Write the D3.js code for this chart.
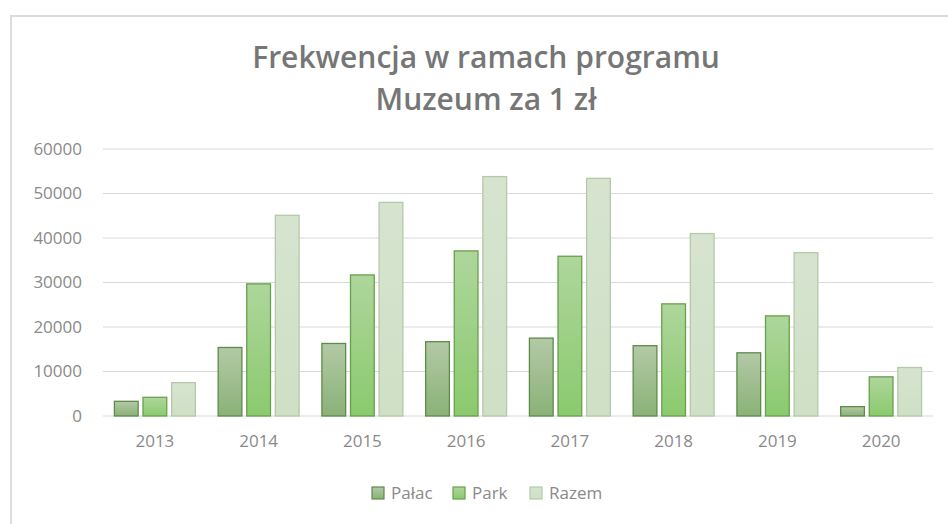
<!DOCTYPE html>
<html>
<head>
<meta charset="utf-8">
<script src="https://cdn.jsdelivr.net/npm/d3@7"></script>
<style>
  body { margin: 0; background: #fff; }
  #chart { width: 948px; height: 524px; }
  text { font-family: "Open Sans", sans-serif; }
</style>
</head>
<body>
<div id="chart"></div>
<script>
const years = ["2013", "2014", "2015", "2016", "2017", "2018", "2019", "2020"];
const seriesNames = ["Pałac", "Park", "Razem"];
const palac = [3300, 15400, 16300, 16700, 17500, 15800, 14200, 2100];
const park = [4200, 29700, 31700, 37100, 35900, 25200, 22500, 8800];
const razem = [7500, 45100, 48000, 53800, 53400, 41000, 36700, 10900];
const yTicks = [0, 10000, 20000, 30000, 40000, 50000, 60000];

const width = 948, height = 524;
const plot = { left: 103, right: 933, top: 149, bottom: 416 };

const svg = d3.select("#chart")
    .append("svg")
    .attr("width", width)
    .attr("height", height);

// gradients for the bars
const defs = svg.append("defs");
const fills = [
    { id: "g0", top: "#b3c9a6", bottom: "#8ab277", stroke: "#5e8a4a" },
    { id: "g1", top: "#aed69c", bottom: "#8bca6e", stroke: "#69a04c" },
    { id: "g2", top: "#d6e4cf", bottom: "#cfe0c6", stroke: "#b4c8aa" }
];
fills.forEach(f => {
    const g = defs.append("linearGradient")
        .attr("id", f.id)
        .attr("x1", 0).attr("y1", 0).attr("x2", 0).attr("y2", 1);
    g.append("stop").attr("offset", "0%").attr("stop-color", f.top);
    g.append("stop").attr("offset", "100%").attr("stop-color", f.bottom);
});

// chart frame
svg.append("path")
    .attr("d", `M11,${height} V16 H${width}`)
    .attr("fill", "none")
    .attr("stroke", "#dcdcdc")
    .attr("stroke-width", 2);

// title
const titleLines = ["Frekwencja w ramach programu", "Muzeum za 1 zł"];
svg.append("g")
    .selectAll("text")
    .data(titleLines)
    .join("text")
    .attr("x", 486)
    .attr("y", (d, i) => 68 + i * 42)
    .attr("text-anchor", "middle")
    .attr("font-size", 30)
    .attr("font-weight", 600)
    .attr("fill", "#767676")
    .text(d => d);

const y = d3.scaleLinear().domain([0, 60000]).range([plot.bottom, plot.top]);
const x0 = d3.scaleBand().domain(years).range([plot.left, plot.right])
    .paddingInner(0.22).paddingOuter(0.11);
const x1 = d3.scaleBand().domain(seriesNames).range([0, x0.bandwidth()])
    .paddingInner(0.17);

// gridlines
svg.append("g")
    .selectAll("line")
    .data(yTicks)
    .join("line")
    .attr("x1", plot.left).attr("x2", plot.right)
    .attr("y1", d => y(d)).attr("y2", d => y(d))
    .attr("stroke", "#d9d9d9")
    .attr("stroke-width", 1.2);

// y axis labels
const yAxis = svg.append("g")
    .attr("transform", `translate(${plot.left - 21},0)`)
    .call(d3.axisLeft(y).tickValues(yTicks).tickSize(0).tickPadding(0).tickFormat(d3.format("d")));
yAxis.select(".domain").remove();
yAxis.selectAll("text")
    .attr("font-size", 17)
    .attr("font-family", "Open Sans, sans-serif")
    .attr("fill", "#8a8a8a");

// x axis labels
const xAxis = svg.append("g")
    .attr("transform", `translate(0,${plot.bottom})`)
    .call(d3.axisBottom(x0).tickSize(0).tickPadding(19));
xAxis.select(".domain").remove();
xAxis.selectAll("text")
    .attr("font-size", 17)
    .attr("font-family", "Open Sans, sans-serif")
    .attr("fill", "#8a8a8a");

const rows = years.map((yr, i) => ({ year: yr, values: [palac[i], park[i], razem[i]] }));

svg.append("g")
    .selectAll("g")
    .data(rows)
    .join("g")
    .attr("transform", d => `translate(${x0(d.year)},0)`)
    .selectAll("rect")
    .data(d => d.values.map((v, k) => ({ k, v })))
    .join("rect")
    .attr("x", d => x1(seriesNames[d.k]))
    .attr("width", x1.bandwidth())
    .attr("y", d => y(d.v))
    .attr("height", d => y(0) - y(d.v))
    .attr("fill", d => `url(#${fills[d.k].id})`)
    .attr("stroke", d => fills[d.k].stroke)
    .attr("stroke-width", 1.3);

// legend
const legendX = [372, 453, 530];
const legend = svg.append("g")
    .selectAll("g")
    .data(seriesNames)
    .join("g")
    .attr("transform", (d, i) => `translate(${legendX[i]},487)`);
legend.append("rect")
    .attr("width", 12).attr("height", 12)
    .attr("fill", (d, i) => `url(#${fills[i].id})`)
    .attr("stroke", (d, i) => fills[i].stroke)
    .attr("stroke-width", 1.2);
legend.append("text")
    .attr("x", 19).attr("y", 12)
    .attr("font-size", 17)
    .attr("fill", "#8a8a8a")
    .text(d => d);
</script>
</body>
</html>
